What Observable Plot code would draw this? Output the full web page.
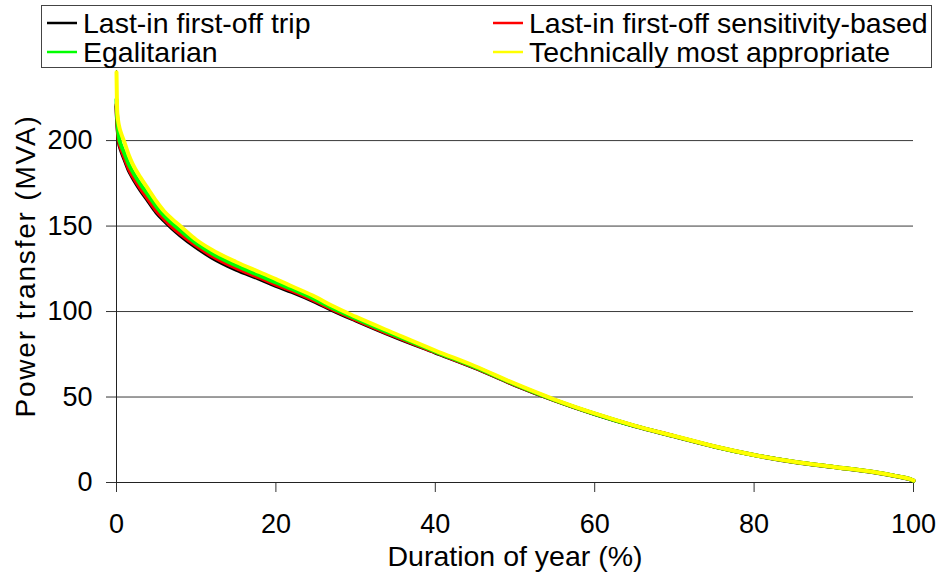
<!DOCTYPE html>
<html>
<head>
<meta charset="utf-8">
<script src="https://cdn.jsdelivr.net/npm/d3@7"></script>
<script src="https://cdn.jsdelivr.net/npm/@observablehq/plot@0.6"></script>
<style>
  html, body { margin: 0; padding: 0; background: #fff; }
  body { width: 941px; height: 572px; overflow: hidden; font-family: "Liberation Sans", Arial, sans-serif; }
  #legend, #legend svg { display: block; }
  #chart svg { display: block; overflow: visible; }
</style>
</head>
<body>
<div id="legend"></div>
<div id="chart"></div>
<script>
// Duration of year (%)
const duration = [0, 0.05, 0.1, 0.3, 0.6, 1, 1.5, 2, 3, 4, 5, 6, 7, 8, 10, 12, 15, 18, 20, 22, 25, 27, 30, 35, 40, 45, 50, 55, 60, 65, 70, 75, 80, 85, 90, 95, 98, 99.5, 100];
// Power transfer (MVA) per method
const lifoTrip    = [220, 214, 210, 199, 194, 189, 183, 178.5, 171, 164.5, 158, 153, 148.5, 144.5, 137.5, 131.5, 124.5, 119, 115, 111.5, 105.5, 101, 94.8, 85, 76, 67, 57, 48, 40, 33, 27, 21, 16, 12, 9, 6, 3.5, 2, 1];
const lifoSens    = [221, 215, 211, 200, 195, 190, 184, 179.5, 172, 165.5, 159, 154, 149.5, 145.5, 138.5, 132.5, 125.5, 119.8, 115.8, 112.2, 106, 101.5, 95.3, 85.4, 76.2, 67.2, 57.1, 48.1, 40.1, 33.1, 27.1, 21.1, 16.1, 12.1, 9.1, 6.1, 3.6, 2.1, 1.1];
const egalitarian = [224, 217, 213, 202, 197, 192.5, 186.5, 182, 174.5, 168, 161.5, 156, 151.5, 147.5, 140, 134, 127, 121, 117, 113.2, 107, 102.3, 96, 86, 76.6, 67.5, 57.4, 48.2, 40.2, 33.1, 27.1, 21.1, 16.1, 12.1, 9.1, 6.1, 3.6, 2.1, 1.1];
const technical   = [240, 224, 216, 209, 204, 199, 192, 186.5, 178.5, 171.5, 164.5, 158.5, 154, 150, 142, 136, 129, 123, 119, 114.8, 108.5, 103.5, 97, 87, 77.2, 68, 57.8, 48.5, 40.4, 33.3, 27.2, 21.2, 16.1, 12.1, 9.1, 6.1, 3.6, 2.1, 1.2];

const seriesNames  = ["Last-in first-off trip", "Last-in first-off sensitivity-based", "Egalitarian", "Technically most appropriate"];
const seriesColors = ["#000000", "#ff0000", "#00ff00", "#ffff00"];
const seriesValues = [lifoTrip, lifoSens, egalitarian, technical];

const xTicks = [0, 20, 40, 60, 80, 100];
const yTicks = [0, 50, 100, 150, 200];
const gridValues = [50, 100, 150, 200];

const rows = [];
seriesNames.forEach((name, s) => {
  duration.forEach((d, i) => rows.push({series: name, duration: d, mva: seriesValues[s][i]}));
});

const FONT = "'Liberation Sans', Arial, sans-serif";

// Legend (SVG above the plot)
const lg = d3.select("#legend").append("svg").attr("width", 941).attr("height", 68);
lg.append("rect").attr("x", 41.5).attr("y", 5.5).attr("width", 890).attr("height", 62)
  .attr("fill", "#fff").attr("stroke", "#444").attr("stroke-width", 1);
const legendPos = [[47, 23, 33], [493, 23, 33], [47, 52, 62], [493, 52, 62]];
seriesNames.forEach((name, i) => {
  const [lx, ly, by] = legendPos[i];
  lg.append("line").attr("x1", lx).attr("x2", lx + 30).attr("y1", ly).attr("y2", ly)
    .attr("stroke", seriesColors[i]).attr("stroke-width", 2.5);
  lg.append("text").attr("x", lx + 36).attr("y", by).text(name)
    .attr("font-family", FONT).attr("font-size", 28.5).attr("fill", "#000");
});

const chart = Plot.plot({
  width: 941,
  height: 504,
  marginTop: 2,
  marginLeft: 116,
  marginRight: 28,
  marginBottom: 90,
  style: {fontFamily: FONT, fontSize: "27px", background: "transparent", color: "#000"},
  x: {domain: [0, 100]},
  y: {domain: [0, 241]},
  color: {domain: seriesNames, range: seriesColors},
  marks: [
    Plot.gridY(gridValues, {stroke: "#3a3a3a", strokeOpacity: 1, strokeWidth: 1}),
    Plot.axisY(yTicks, {tickSize: 10, tickPadding: 14, label: null, stroke: "#333", fill: "#000"}),
    Plot.axisX(xTicks, {tickSize: 10, tickPadding: 21, label: null, stroke: "#333", fill: "#000"}),
    Plot.ruleX([0], {stroke: "#222"}),
    Plot.ruleY([0], {stroke: "#222"}),
    Plot.line(rows, {x: "duration", y: "mva", z: "series", stroke: "series", strokeWidth: 4, curve: "monotone-x"}),
    Plot.text(["Power transfer (MVA)"], {frameAnchor: "left", textAnchor: "middle", lineAnchor: "middle", text: d => d, rotate: -90, dx: -90, dy: -10.5, fontSize: 28, fill: "#000", className: "ylab"}),
    Plot.text(["Duration of year (%)"], {frameAnchor: "bottom", textAnchor: "middle", lineAnchor: "middle", text: d => d, dy: 74, fontSize: 28.5, fill: "#000"})
  ]
});
d3.select(chart).selectAll(".ylab text").style("letter-spacing", "1.8px");
document.getElementById("chart").appendChild(chart);
</script>
</body>
</html>
